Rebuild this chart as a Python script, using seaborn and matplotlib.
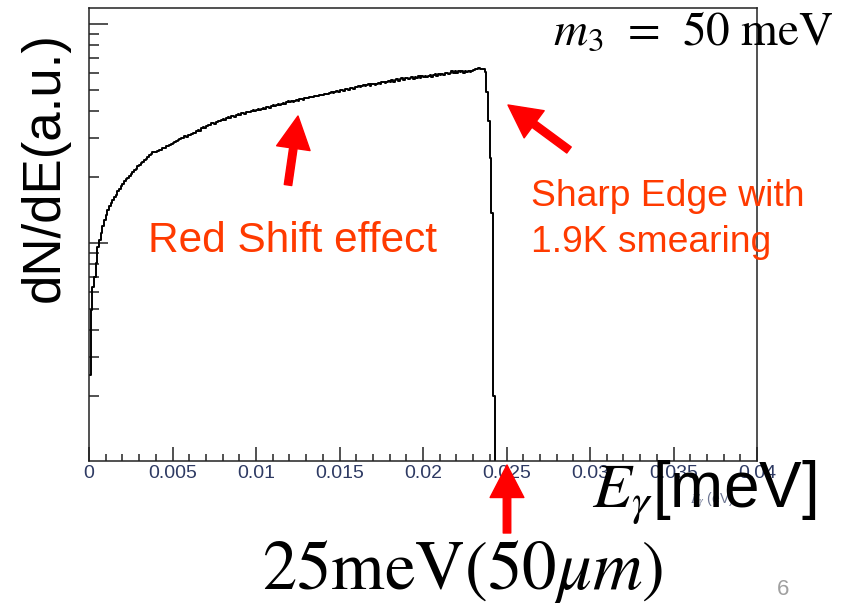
import matplotlib
matplotlib.use("Agg")
import numpy as np
import pandas as pd
import matplotlib.pyplot as plt
from matplotlib.ticker import MultipleLocator, FixedLocator, LogLocator, NullFormatter
import seaborn as sns

# histogram of photon energies, 0.0001 eV bins starting at 0
BIN_WIDTH = 0.0001

counts_rise = [
    250, 494, 630, 700, 810, 959, 1032, 1111, 1196, 1274,
    1342, 1415, 1468, 1530, 1565, 1628, 1664, 1718, 1760, 1826,
    1852, 1925, 1953, 1990, 2012, 2071, 2098, 2160, 2172, 2236,
    2262, 2330, 2338, 2381, 2410, 2478, 2515, 2540, 2590, 2596,
    2612, 2641, 2668, 2650, 2702, 2716, 2760, 2768, 2815, 2822,
    2871, 2884, 2930, 2948, 2972, 3012, 3020, 3066, 3061, 3112,
]
counts_slope = [
    3124, 3151, 3188, 3162, 3229, 3281, 3262, 3338, 3371, 3352,
    3431, 3462, 3440, 3521, 3546, 3511, 3576, 3618, 3590, 3662,
    3690, 3655, 3719, 3751, 3726, 3792, 3811, 3780, 3848, 3871,
    3840, 3914, 3935, 3901, 3962, 3980, 3945, 4019, 4040, 4001,
    4061, 4095, 4058, 4104, 4141, 4110, 4160, 4195, 4150, 4212,
    4246, 4209, 4271, 4290, 4262, 4318, 4355, 4310, 4380, 4431,
    4412, 4438, 4405, 4463, 4492, 4450, 4530, 4549, 4502, 4578,
    4610, 4570, 4645, 4660, 4618, 4690, 4711, 4668, 4738, 4761,
    4720, 4782, 4809, 4770, 4846, 4878, 4840, 4915, 4941, 4902,
    4970, 5001, 4962, 5030, 5062, 5021, 5088, 5120, 5074, 5150,
]
counts_plateau = [
    5172, 5236, 5150, 5236, 5280, 5190, 5274, 5300, 5220, 5302,
    5330, 5250, 5346, 5400, 5310, 5412, 5455, 5370, 5436, 5500,
    5450, 5530, 5440, 5546, 5600, 5500, 5590, 5640, 5550, 5640,
    5680, 5590, 5680, 5730, 5630, 5720, 5690, 5770, 5670, 5760,
    5730, 5800, 5710, 5806, 5850, 5750, 5842, 5880, 5790, 5882,
    5850, 5940, 5860, 5950, 5990, 5900, 5990, 6070, 5980, 6068,
    5990, 6090, 6010, 6100, 6000, 6070, 6010, 6100, 6030, 6090,
    6150, 6228, 6240, 6262, 6236, 6250, 6214, 6040,
]
counts_edge = [4892, 3606, 2443, 1371, 200]
EMPTY = 1  # first empty bin, below the axis floor

x_ticks = [0, 0.005, 0.01, 0.015, 0.02, 0.025, 0.03, 0.035, 0.04]
x_tick_labels = ["0", "0.005", "0.01", "0.015", "0.02", "0.025", "0.03", "0.035", "0.04"]

counts = counts_rise + counts_slope + counts_plateau + counts_edge + [EMPTY]
df = pd.DataFrame({
    "E": np.round(np.arange(len(counts)) * BIN_WIDTH, 6),
    "counts": counts,
})

W, H = 844, 605
sns.set_theme(style="white")
plt.rcParams["font.family"] = ["Liberation Sans", "DejaVu Sans"]
plt.rcParams["mathtext.fontset"] = "stix"

fig = plt.figure(figsize=(W / 100, H / 100), dpi=100)
ax = fig.add_axes([89 / W, 1 - 461 / H, (757 - 89) / W, (461 - 8) / H])

sns.lineplot(data=df, x="E", y="counts", drawstyle="steps-post", color="black",
             lw=1.4, estimator=None, ax=ax)
ax.set_yscale("log")
ax.set_xlim(0, 0.04)
ax.set_ylim(101, 11830)
ax.set_xlabel("")
ax.set_ylabel("")

for s in ax.spines.values():
    s.set_visible(True)
    s.set_color("#222222")
    s.set_linewidth(1.1)

tick_col = "#2e3a63"
ax.xaxis.set_major_locator(FixedLocator(x_ticks))
ax.set_xticklabels(x_tick_labels)
ax.xaxis.set_minor_locator(MultipleLocator(0.001))
ax.yaxis.set_major_locator(LogLocator(base=10, numticks=10))
ax.yaxis.set_minor_locator(LogLocator(base=10, subs=np.arange(2, 10), numticks=20))
ax.yaxis.set_major_formatter(NullFormatter())
ax.yaxis.set_minor_formatter(NullFormatter())
ax.tick_params(axis="x", which="major", direction="in", length=10, width=1.1,
               color="#222222", labelsize=14, labelcolor=tick_col, pad=3, bottom=True)
ax.tick_params(axis="x", which="minor", direction="in", length=5, width=1.1,
               color="#222222", bottom=True)
ax.tick_params(axis="y", which="major", direction="in", length=14, width=1.1,
               color="#222222", left=True)
ax.tick_params(axis="y", which="minor", direction="in", length=7, width=1.1,
               color="#222222", left=True)


def px(x, y):
    return x / W, 1 - y / H


orange = "#ff3a00"
red = "#ff0000"

fig.text(*px(45, 167), "dN/dE(a.u.)", rotation=90, ha="center", va="center",
         fontsize=38, color="black")
fig.text(*px(292, 252), "Red Shift effect", ha="center", va="baseline",
         fontsize=30.5, color=orange)
fig.text(*px(531, 206), "Sharp Edge with", ha="left", va="baseline",
         fontsize=26.8, color=orange)
fig.text(*px(531, 252), "1.9K smearing", ha="left", va="baseline",
         fontsize=26.8, color=orange)
fig.text(*px(553, 45), r"$m_3\;\,=\;\,50\ \mathrm{meV}$", ha="left", va="baseline",
         fontsize=34, color="black")
fig.text(*px(690, 503), r"$E_\gamma$ (eV)", ha="left", va="baseline",
         fontsize=10, color=tick_col, alpha=0.7)
fig.text(*px(592, 508), r"$E_\gamma$[meV]", ha="left", va="baseline",
         fontsize=46, color="black")
fig.text(*px(262, 589), r"$25\mathrm{meV}(50\mu m)$", ha="left", va="baseline",
         fontsize=49.5, color="black")
fig.text(*px(783, 595), "6", ha="center", va="baseline", fontsize=16, color="#a0a0a0")

arrow = dict(arrowstyle="simple,head_length=1.3,head_width=1.35,tail_width=0.3",
             color=red, shrinkA=0, shrinkB=0, mutation_scale=18)
for tip, tail in [((298, 116), (288, 185)), ((508, 105), (569, 150)), ((507, 465), (507, 533))]:
    ax.annotate("", xy=(tip[0], H - tip[1]), xytext=(tail[0], H - tail[1]),
                xycoords="figure pixels", textcoords="figure pixels",
                arrowprops=arrow, annotation_clip=False)

fig.savefig("out.png", dpi=100)
